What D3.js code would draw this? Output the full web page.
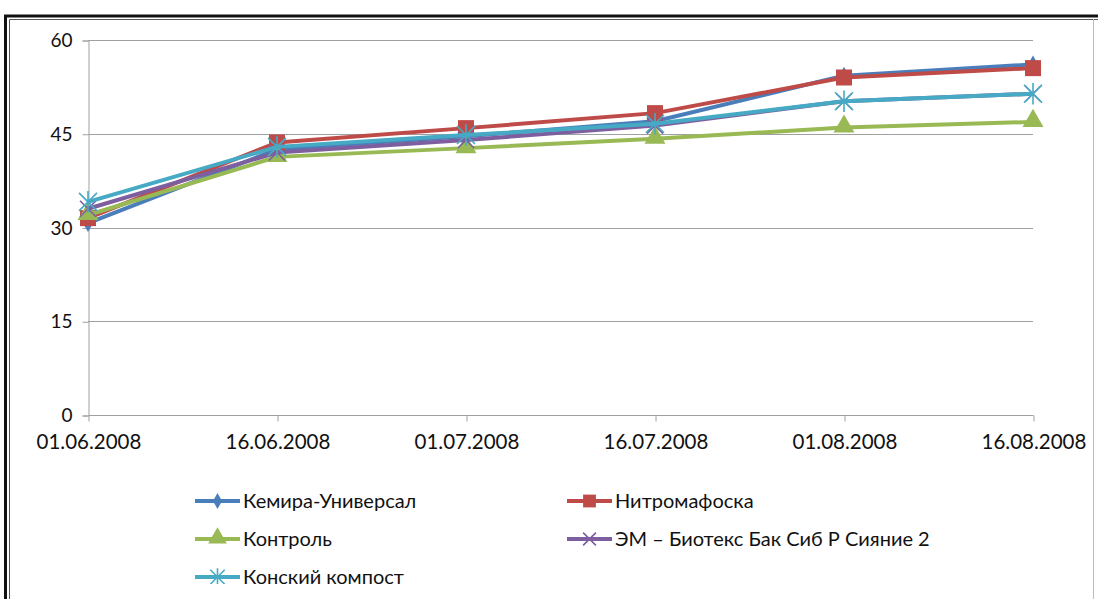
<!DOCTYPE html>
<html>
<head>
<meta charset="utf-8">
<script src="https://cdn.jsdelivr.net/npm/d3@7"></script>
<style>
  html, body { margin: 0; padding: 0; background: #fff; }
  svg { display: block; }
  text { font-family: Lato, "Open Sans", sans-serif; fill: #111; }
</style>
</head>
<body>
<svg id="chart" width="1098" height="599"></svg>
<script>
// Measurement dates (category axis)
const dates = ["01.06.2008", "16.06.2008", "01.07.2008", "16.07.2008", "01.08.2008", "16.08.2008"];

// Series values per date
const kemira   = [30.7, 42.5, 44.6, 47.0, 54.3, 56.1];
const nitro    = [31.5, 43.6, 45.9, 48.3, 54.0, 55.5];
const kontrol  = [32.0, 41.3, 42.7, 44.2, 46.0, 46.9];
const em       = [33.0, 42.0, 44.0, 46.3, 50.2, 51.4];
const konskiy  = [34.1, 42.9, 44.8, 46.6, 50.2, 51.4];

const seriesNames = ["Кемира-Универсал", "Нитромафоска", "Контроль", "ЭМ – Биотекс Бак Сиб Р Сияние 2", "Конский компост"];

// Y axis ticks
const yTicks = [0, 15, 30, 45, 60];

const series = [
  { name: seriesNames[0], values: kemira,  color: "#4a7ebb", marker: "diamond" },
  { name: seriesNames[1], values: nitro,   color: "#be4b48", marker: "square" },
  { name: seriesNames[2], values: kontrol, color: "#98b954", marker: "triangle" },
  { name: seriesNames[3], values: em,      color: "#7d5fa0", marker: "x" },
  { name: seriesNames[4], values: konskiy, color: "#46aac5", marker: "star" }
];

const svg = d3.select("#chart");

// Frame: thick outer border with a thin inner line
svg.append("path").attr("d", "M5.5,599 V16 H1098").attr("fill", "none").attr("stroke", "#111").attr("stroke-width", 3);
svg.append("path").attr("d", "M9.5,599 V19.5 H1098").attr("fill", "none").attr("stroke", "#555").attr("stroke-width", 1);
svg.append("line").attr("x1", 1093.5).attr("x2", 1093.5).attr("y1", 19).attr("y2", 599).attr("stroke", "#bbb").attr("stroke-width", 1);

const x = d3.scalePoint().domain(dates).range([88, 1033]);
const y = d3.scaleLinear().domain([0, 60]).range([415, 40]);

// Horizontal gridlines
svg.append("g").selectAll("line").data(yTicks.filter(d => d > 0)).join("line")
  .attr("x1", 88).attr("x2", 1033)
  .attr("y1", d => Math.round(y(d)) + 0.5).attr("y2", d => Math.round(y(d)) + 0.5)
  .attr("stroke", "#a0a0a0").attr("stroke-width", 1);

// Y axis
const yAxis = svg.append("g").attr("transform", "translate(88.5,0.5)")
  .call(d3.axisLeft(y).tickValues(yTicks).tickSize(6).tickPadding(10).tickFormat(d3.format("d")));
yAxis.select(".domain").attr("stroke", "#a0a0a0");
yAxis.selectAll(".tick line").attr("stroke", "#a0a0a0");
yAxis.selectAll("text").attr("font-size", 19).attr("font-family", "Lato, sans-serif").attr("fill", "#111");

// X axis
const xAxis = svg.append("g").attr("transform", "translate(0.5,415.5)")
  .call(d3.axisBottom(x).tickSize(6).tickPadding(13));
xAxis.select(".domain").attr("stroke", "#a0a0a0").attr("d", "M88,0H1033");
xAxis.selectAll(".tick line").attr("stroke", "#a0a0a0");
xAxis.selectAll("text").attr("font-size", 20.5).attr("font-family", "Lato, sans-serif").attr("fill", "#111");

// Marker shapes
function drawMarker(g, type, color, cx, cy, scale) {
  const s = scale || 1;
  if (type === "diamond") {
    g.append("path").attr("d", d3.symbol(d3.symbolDiamond, 90 * s)()).attr("transform", `translate(${cx},${cy})`).attr("fill", color);
  } else if (type === "square") {
    const h = 8 * s;
    g.append("rect").attr("x", cx - h).attr("y", cy - h).attr("width", 2 * h).attr("height", 2 * h).attr("fill", color);
  } else if (type === "triangle") {
    g.append("path").attr("d", d3.symbol(d3.symbolTriangle, 190 * s)()).attr("transform", `translate(${cx},${cy - 1})`).attr("fill", color);
  } else if (type === "x") {
    const h = 8 * s;
    g.append("path").attr("d", `M${cx - h},${cy - h}L${cx + h},${cy + h}M${cx - h},${cy + h}L${cx + h},${cy - h}`)
      .attr("stroke", color).attr("stroke-width", 1.6).attr("fill", "none");
  } else if (type === "star") {
    const h = 9 * s;
    g.append("path").attr("d", `M${cx - h},${cy - h}L${cx + h},${cy + h}M${cx - h},${cy + h}L${cx + h},${cy - h}M${cx},${cy - h * 1.2}L${cx},${cy + h * 1.2}`)
      .attr("stroke", color).attr("stroke-width", 1.6).attr("fill", "none");
  }
}

const line = d3.line().x((d, i) => x(dates[i])).y(d => y(d));

const plot = svg.append("g");
series.forEach(s => {
  const g = plot.append("g");
  g.append("path").datum(s.values).attr("d", line)
    .attr("fill", "none").attr("stroke", s.color).attr("stroke-width", 4).attr("stroke-linejoin", "round");
  s.values.forEach((v, i) => drawMarker(g, s.marker, s.color, x(dates[i]), y(v)));
});

// Legend (two columns, bottom row cut by the chart frame)
const defs = svg.append("defs");
defs.append("clipPath").attr("id", "legendClip").append("rect").attr("x", 0).attr("y", 0).attr("width", 1098).attr("height", 584);

const legend = svg.append("g").attr("clip-path", "url(#legendClip)");
const legendPos = [
  { x: 195, y: 501 }, { x: 567, y: 501 },
  { x: 195, y: 539 }, { x: 567, y: 539 },
  { x: 195, y: 577 }
];
series.forEach((s, i) => {
  const p = legendPos[i];
  const g = legend.append("g");
  g.append("line").attr("x1", p.x).attr("x2", p.x + 45).attr("y1", p.y).attr("y2", p.y)
    .attr("stroke", s.color).attr("stroke-width", 4);
  drawMarker(g, s.marker, s.color, p.x + 22.5, p.y, 0.8);
  g.append("text").attr("x", p.x + 48).attr("y", p.y).attr("dy", "0.35em")
    .attr("font-size", 20).text(s.name);
});
</script>
</body>
</html>
